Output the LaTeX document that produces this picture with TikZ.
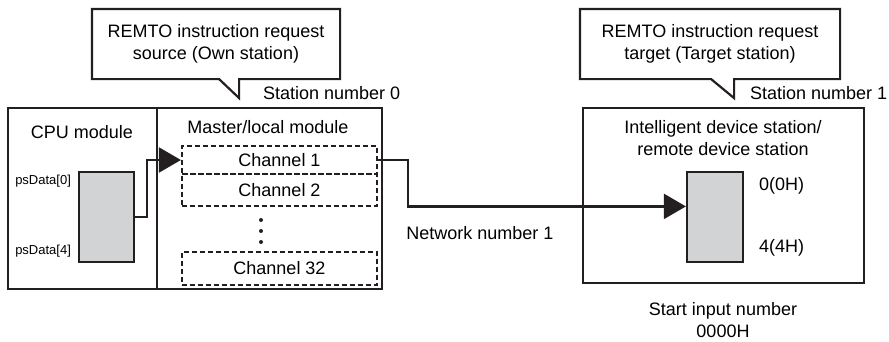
\documentclass[tikz,border=0pt]{standalone}
\usepackage{fontspec}
\setmainfont{Liberation Sans}
\usepackage{xcolor}
\usetikzlibrary{positioning,arrows.meta}
\definecolor{bufgray}{HTML}{D1D3D4}
\definecolor{linegray}{HTML}{231F20}

\begin{document}
\begin{tikzpicture}[x=1pt, y=-1pt, font=\fontsize{18}{22}\selectfont, line width=2.2pt,
  >={Triangle[length=22pt, width=25pt]},
  mod/.style={draw=linegray, minimum height=181pt, inner sep=0pt},
  ch/.style={draw=linegray, dash pattern=on 5pt off 3pt, minimum width=195pt, inner sep=0pt},
  buf/.style={draw=linegray, fill=bufgray, minimum width=55pt, minimum height=90pt, inner sep=0pt},
  note/.style={align=center, minimum width=246pt, minimum height=68pt, inner sep=0pt},
  lb/.style={font=\fontsize{13}{15}\selectfont, inner sep=0pt},
  tx/.style={inner sep=0pt, align=center},
  cn/.style={->, draw=linegray}]
\useasboundingbox (0,0) rectangle (889,341);

% own station
\node[mod, minimum width=149pt] (cpu) at (82.5,198.5) {};
\node[mod, minimum width=225pt] (master) at (269.5,198.5) {};
\node[tx] (cpulbl) at (82,132) {CPU module};
\node[tx] (mstlbl) at (268,127) {Master/local module};
\node[ch, minimum height=28pt] (ch1) at (279.5,160) {Channel 1};
\node[ch, minimum height=32pt] (ch2) at (279.5,190) {Channel 2};
\node[ch, minimum height=33pt] (ch32) at (279.5,268.5) {Channel 32};
\foreach \y in {220,231,242}
  \fill[linegray] (261,\y) circle (2pt);
\node[buf] (buf) at (106.5,217) {};
\node[lb, anchor=east] (ps0) at (72,181) {psData[0]};
\node[lb, anchor=east] (ps4) at (72,251) {psData[4]};

% target station
\node[draw=linegray, minimum width=281pt, minimum height=175pt, inner sep=0pt] (tgt) at (723.5,195.5) {};
\node[tx] (tgtlbl) at (723,138) {Intelligent device station/\\remote device station};
\node[buf, minimum width=56pt] (rbuf) at (715,217) {};
\node[tx, anchor=west] (r0) at (758,186) {0(0H)};
\node[tx, anchor=west] (r4) at (758,248) {4(4H)};
\node[tx] (start) at (723,320) {Start input number\\0000H};

% callouts
\node[note] (srcnote) at (216,44) {REMTO instruction request\\source (Own station)};
\draw[linegray] (srcnote.north west) -- (srcnote.north east) -- (srcnote.south east)
  -- ++(-101,0) -- ++(0,19) -- ++(-20,-19) -- (srcnote.south west) -- cycle;
\node[tx, anchor=west] (st0) at (262,93) {Station number 0};
\node[note, minimum width=258pt] (tgtnote) at (710,44) {REMTO instruction request\\target (Target station)};
\draw[linegray] (tgtnote.north west) -- (tgtnote.north east) -- (tgtnote.south east)
  -- ++(-106,0) -- ++(0,19) -- ++(-23,-19) -- (tgtnote.south west) -- cycle;
\node[tx, anchor=west] (st1) at (749,93) {Station number 1};

% connectors
\draw[cn] (buf.east) -- ++(12,0) |- (ch1.west);
\draw[cn] (ch1.east) -- ++(30,0) |- (rbuf.160);
\node[tx] (net) at (480,233) {Network number 1};
\end{tikzpicture}
\end{document}
